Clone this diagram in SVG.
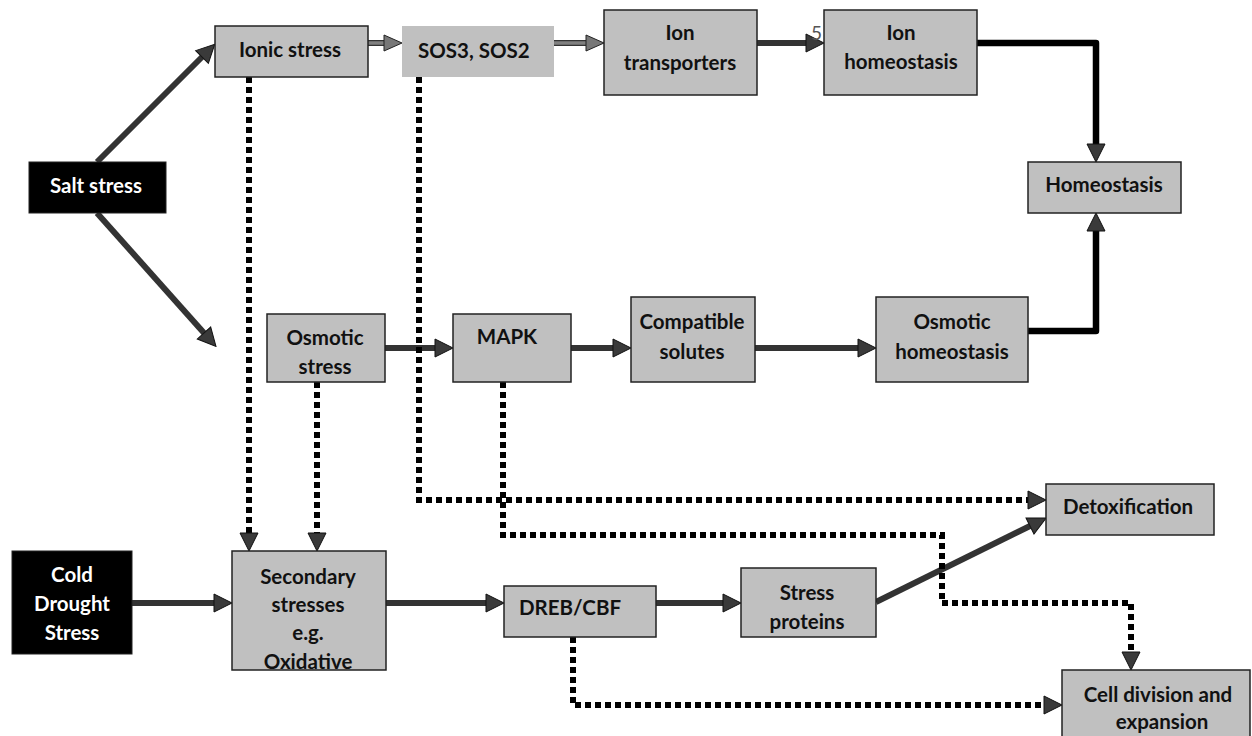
<svg xmlns="http://www.w3.org/2000/svg" width="1252" height="736" viewBox="0 0 1252 736">
  <style>
    .box { fill: #c0c0c0; stroke: #222; stroke-width: 1.5; }
    .flat { fill: #c0c0c0; stroke: none; }
    .dark { fill: #000; stroke: #222; stroke-width: 1; }
    .lbl { font-family: Lato, "Liberation Sans", sans-serif; font-weight: bold; font-size: 20.5px; fill: #111; text-anchor: middle; }
    .inv { fill: #fff; }
    .num { font-family: Lato, "Liberation Sans", sans-serif; font-size: 19px; fill: #555; }
    .solid { fill: none; stroke: #333; stroke-width: 6; }
    .edge { fill: none; stroke: #333; stroke-width: 6; }
    .light { fill: none; stroke: #808080; stroke-width: 3.5; }
    .heavy { fill: none; stroke: #000; stroke-width: 6.5; stroke-linejoin: round; }
    .dot { fill: none; stroke: #000; stroke-width: 6; stroke-dasharray: 6 4; }
  </style>
  <defs>
    <marker id="ah" markerUnits="userSpaceOnUse" markerWidth="20" markerHeight="22" viewBox="0 0 20 22" refX="1" refY="11" orient="auto">
      <path d="M1,2 L19,11 L1,20 z" fill="#3a3a3a" stroke="#111" stroke-width="1"/>
    </marker>
    <marker id="ahl" markerUnits="userSpaceOnUse" markerWidth="20" markerHeight="22" viewBox="0 0 20 22" refX="1" refY="11" orient="auto">
      <path d="M1,3 L19,11 L1,19 z" fill="#777" stroke="#222" stroke-width="1"/>
    </marker>
    <marker id="ahd" markerUnits="userSpaceOnUse" markerWidth="20" markerHeight="22" viewBox="0 0 20 22" refX="1" refY="11" orient="auto">
      <path d="M1,2 L19,11 L1,20 z" fill="#3a3a3a" stroke="#111" stroke-width="1"/>
    </marker>
  </defs>

  <!-- connectors -->
  <g id="connectors">
    <path class="solid" d="M97,162 L202,57" marker-end="url(#ah)"/>
    <path class="solid" d="M97,213 L204,333" marker-end="url(#ah)"/>
    <!-- outlined grey arrows: dark edge under a lighter shaft -->
    <path class="edge" d="M368,43 L384,43"/>
    <path class="light" d="M368,43 L384,43" marker-end="url(#ahl)"/>
    <path class="edge" d="M554,43 L586,43"/>
    <path class="light" d="M554,43 L586,43" marker-end="url(#ahl)"/>
    <path class="solid" d="M757,43 L806,43" marker-end="url(#ah)"/>
    <path class="heavy" d="M977,43 L1096,43 L1096,144" marker-end="url(#ah)"/>
    <path class="solid" d="M385,348 L435,348" marker-end="url(#ah)"/>
    <path class="solid" d="M571,348 L613,348" marker-end="url(#ah)"/>
    <path class="solid" d="M755,348 L858,348" marker-end="url(#ah)"/>
    <path class="heavy" d="M1028,331 L1096,331 L1096,231" marker-end="url(#ah)"/>
    <path class="solid" d="M132,603 L214,603" marker-end="url(#ah)"/>
    <path class="solid" d="M386,603 L486,603" marker-end="url(#ah)"/>
    <path class="solid" d="M656,603 L723,603" marker-end="url(#ah)"/>
    <path class="solid" d="M876,602 L1030,526" marker-end="url(#ah)"/>

    <path class="dot" d="M249,77 L249,533" marker-end="url(#ahd)"/>
    <path class="dot" d="M317,382 L317,533" marker-end="url(#ahd)"/>
    <path class="dot" d="M419,77 L419,500 L1028,500" marker-end="url(#ahd)"/>
    <path class="dot" d="M503,382 L503,535 L942,535 L942,603 L1131,603 L1131,652" marker-end="url(#ahd)"/>
    <path class="dot" d="M573,637 L573,705 L1044,705" marker-end="url(#ahd)"/>
    <text class="num" x="811" y="40">5</text>
  </g>

  <g id="salt-stress">
    <rect class="dark" x="29" y="162" width="137" height="51"/>
    <text class="lbl inv" x="96" y="193">Salt stress</text>
  </g>
  <g id="ionic-stress">
    <rect class="box" x="215" y="26" width="153" height="51"/>
    <text class="lbl" x="290" y="57">Ionic stress</text>
  </g>
  <g id="sos">
    <rect class="flat" x="402" y="26" width="152" height="51"/>
    <text class="lbl" x="418" y="58" style="text-anchor:start">SOS3, SOS2</text>
  </g>
  <g id="ion-transporters">
    <rect class="box" x="604" y="10" width="153" height="85"/>
    <text class="lbl" x="680" y="40">Ion</text>
    <text class="lbl" x="680" y="70">transporters</text>
  </g>
  <g id="ion-homeostasis">
    <rect class="box" x="824" y="10" width="153" height="85"/>
    <text class="lbl" x="901" y="40">Ion</text>
    <text class="lbl" x="901" y="69">homeostasis</text>
  </g>
  <g id="homeostasis">
    <rect class="box" x="1028" y="162" width="153" height="51"/>
    <text class="lbl" x="1104" y="192">Homeostasis</text>
  </g>
  <g id="osmotic-stress">
    <rect class="box" x="267" y="314" width="118" height="68"/>
    <text class="lbl" x="325" y="345">Osmotic</text>
    <text class="lbl" x="325" y="374">stress</text>
  </g>
  <g id="mapk">
    <rect class="box" x="453" y="314" width="118" height="68"/>
    <text class="lbl" x="507" y="344">MAPK</text>
  </g>
  <g id="compatible-solutes">
    <rect class="box" x="631" y="297" width="124" height="85"/>
    <text class="lbl" x="692" y="329">Compatible</text>
    <text class="lbl" x="692" y="359">solutes</text>
  </g>
  <g id="osmotic-homeostasis">
    <rect class="box" x="876" y="297" width="152" height="85"/>
    <text class="lbl" x="952" y="329">Osmotic</text>
    <text class="lbl" x="952" y="359">homeostasis</text>
  </g>
  <g id="detoxification">
    <rect class="box" x="1046" y="484" width="168" height="51"/>
    <text class="lbl" x="1128" y="514">Detoxification</text>
  </g>
  <g id="cold-drought">
    <rect class="dark" x="12" y="551" width="120" height="103"/>
    <text class="lbl inv" x="72" y="582">Cold</text>
    <text class="lbl inv" x="72" y="611">Drought</text>
    <text class="lbl inv" x="72" y="640">Stress</text>
  </g>
  <g id="secondary-stresses">
    <rect class="box" x="232" y="551" width="154" height="119"/>
    <text class="lbl" x="308" y="584">Secondary</text>
    <text class="lbl" x="308" y="612">stresses</text>
    <text class="lbl" x="308" y="640">e.g.</text>
    <text class="lbl" x="308" y="669">Oxidative</text>
  </g>
  <g id="dreb-cbf">
    <rect class="box" x="504" y="586" width="152" height="51"/>
    <text class="lbl" x="570" y="615">DREB/CBF</text>
  </g>
  <g id="stress-proteins">
    <rect class="box" x="741" y="568" width="135" height="69"/>
    <text class="lbl" x="807" y="600">Stress</text>
    <text class="lbl" x="807" y="629">proteins</text>
  </g>
  <g id="cell-division">
    <rect class="box" x="1062" y="670" width="188" height="80"/>
    <text class="lbl" x="1158" y="702">Cell division and</text>
    <text class="lbl" x="1162" y="729">expansion</text>
  </g>
</svg>
